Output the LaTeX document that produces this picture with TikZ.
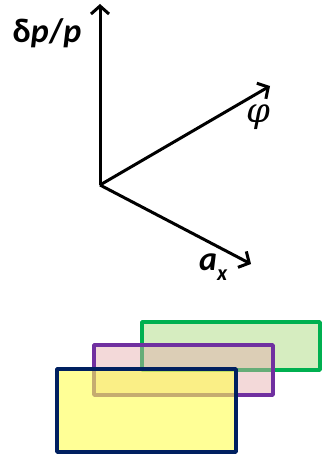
\documentclass[tikz,border=0pt]{standalone}
\usepackage{fontspec}
\newfontfamily\calfont{Carlito}
\newfontfamily\phifont{DejaVu Serif}
\usetikzlibrary{arrows.meta}

\definecolor{verdeborde}{RGB}{0,176,80}
\definecolor{verdefondo}{RGB}{214,237,192}
\definecolor{moradoborde}{RGB}{112,48,160}
\definecolor{rosafondo}{RGB}{228,170,170}
\definecolor{azulborde}{RGB}{0,32,96}
\definecolor{amarillofondo}{RGB}{255,255,80}

\tikzset{
  eje/.style={line width=3pt, -{Straight Barb[length=8pt,width=18pt,line width=3pt]}},
  caja/.style={line width=3.5pt, line join=round},
  etiqueta/.style={inner sep=0pt, font=\calfont\bfseries\fontsize{34}{38}\selectfont}
}

\begin{document}
\begin{tikzpicture}[x=1pt,y=-1pt]
    \useasboundingbox (0,0) rectangle (322,454);

    % Origen y extremos de los ejes
    \coordinate (o) at (100,185);
    \coordinate (dpp) at (100,4);
    \coordinate (phi) at (270,86);
    \coordinate (ax) at (251,264);

    % Ejes
    \draw[eje] (o) -- (dpp);
    \draw[eje] (o) -- (phi);
    \draw[eje] (o) -- (ax);

    % Etiquetas de los ejes
    \node[etiqueta] (ldpp) at (47,33) {δ\textit{p}/\textit{p}};
    \node[inner sep=0pt, font=\phifont\itshape\fontsize{34}{38}\selectfont] (lphi) at (258,117) {φ};
    \node[etiqueta, anchor=base west] (lax) at (199,270)
        {\textit{a}\raisebox{-0.3em}{\fontsize{22}{24}\selectfont\textit{x}}};

    % Rectangulos superpuestos
    \draw[caja, draw=verdeborde, fill=verdefondo] (142,322) rectangle (320,370);
    \draw[caja, draw=moradoborde, fill=rosafondo, fill opacity=0.45] (94,345) rectangle (273,395);
    \draw[caja, draw=azulborde, fill=amarillofondo, fill opacity=0.6] (57,369) rectangle (236,452);
\end{tikzpicture}
\end{document}
